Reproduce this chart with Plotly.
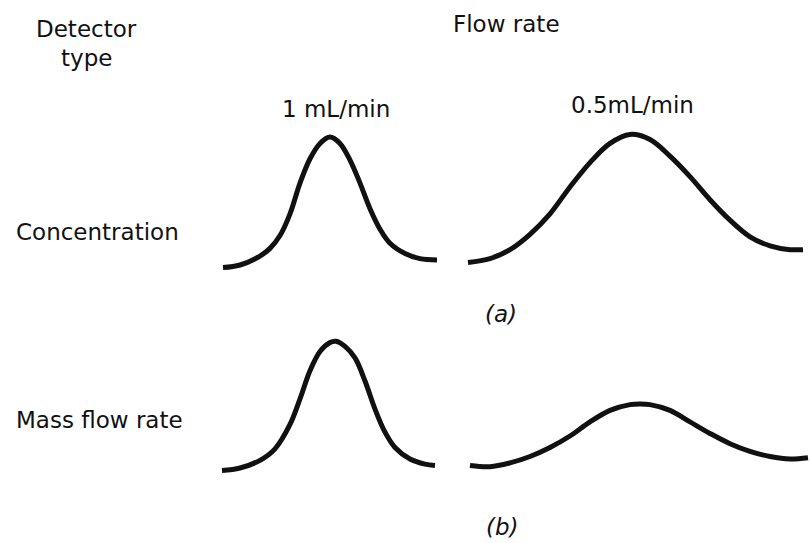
import plotly.graph_objects as go

# Elution profiles: time (min) vs detector response (normalised to the
# concentration-detector peak at 1 mL/min).
conc_1ml_t = [0.06, 0.4, 0.8, 1.0, 1.2, 1.4, 1.6, 1.8, 2.0, 2.2, 2.4, 2.6, 2.8, 3.0, 3.2, 3.4, 3.7, 4.0, 4.34]
conc_1ml_r = [-0.02, 0.00, 0.07, 0.13, 0.23, 0.40, 0.64, 0.83, 0.95, 1.00, 0.95, 0.82, 0.64, 0.44, 0.28, 0.17, 0.09, 0.05, 0.04]

conc_05ml_t = [0.06, 0.5, 0.9, 1.3, 1.7, 2.1, 2.5, 2.9, 3.3, 3.7, 4.1, 4.5, 4.9, 5.3, 5.7, 6.1, 6.5, 6.76]
conc_05ml_r = [0.02, 0.05, 0.12, 0.24, 0.40, 0.61, 0.80, 0.95, 1.02, 0.98, 0.85, 0.69, 0.51, 0.35, 0.22, 0.15, 0.12, 0.12]

mass_1ml_t = [0.04, 0.4, 0.8, 1.1, 1.4, 1.6, 1.8, 2.0, 2.2, 2.32, 2.5, 2.7, 2.9, 3.1, 3.3, 3.5, 3.8, 4.1, 4.3]
mass_1ml_r = [-0.02, 0.00, 0.06, 0.15, 0.34, 0.54, 0.76, 0.91, 0.98, 0.99, 0.95, 0.86, 0.68, 0.46, 0.28, 0.16, 0.07, 0.03, 0.02]

mass_05ml_t = [0.1, 0.5, 0.9, 1.3, 1.7, 2.1, 2.5, 2.9, 3.3, 3.5, 3.7, 4.1, 4.5, 4.9, 5.3, 5.7, 6.1, 6.5, 6.86]
mass_05ml_r = [0.02, 0.01, 0.04, 0.09, 0.16, 0.25, 0.36, 0.45, 0.495, 0.50, 0.495, 0.45, 0.36, 0.27, 0.19, 0.13, 0.09, 0.07, 0.08]

row_labels = ["Concentration", "Mass flow rate"]
col_labels = ["1 mL/min", "0.5mL/min"]
panel_tags = ["(a)", "(b)"]

W, H = 810, 543
INK = "#111111"
FONT = "DejaVu Sans"

# Panel geometry (pixels): columns share a time scale, rows share a response scale
PX_PER_MIN = 50.0
PX_PER_UNIT = 128.0
cols = [dict(left=210, right=450, t0=220), dict(left=455, right=810, t0=465)]
rows = [dict(top=118, bottom=282, base=265), dict(top=325, bottom=488, base=468)]

series = [
    [(conc_1ml_t, conc_1ml_r), (conc_05ml_t, conc_05ml_r)],
    [(mass_1ml_t, mass_1ml_r), (mass_05ml_t, mass_05ml_r)],
]

fig = go.Figure()
layout_axes = {}
k = 0
for ri, row in enumerate(rows):
    for ci, col in enumerate(cols):
        k += 1
        xa = "x" if k == 1 else f"x{k}"
        ya = "y" if k == 1 else f"y{k}"
        t, r = series[ri][ci]
        fig.add_trace(go.Scatter(
            x=t, y=r, xaxis=xa, yaxis=ya, mode="lines",
            line=dict(color=INK, width=5, shape="spline", smoothing=1.0),
            hoverinfo="skip", showlegend=False,
        ))
        xrange = [(col["left"] - col["t0"]) / PX_PER_MIN, (col["right"] - col["t0"]) / PX_PER_MIN]
        yrange = [(row["base"] - row["bottom"]) / PX_PER_UNIT, (row["base"] - row["top"]) / PX_PER_UNIT]
        axis_common = dict(visible=False, showgrid=False, zeroline=False, fixedrange=True)
        layout_axes["xaxis" if k == 1 else f"xaxis{k}"] = dict(
            domain=[col["left"] / W, col["right"] / W], range=xrange,
            anchor=ya, **axis_common)
        layout_axes["yaxis" if k == 1 else f"yaxis{k}"] = dict(
            domain=[1 - row["bottom"] / H, 1 - row["top"] / H], range=yrange,
            anchor=xa, **axis_common)

fig.update_layout(**layout_axes)


def label(text, x, y, xanchor="center", italic=False, size=23):
    fig.add_annotation(
        text=text, xref="paper", yref="paper", x=x / W, y=1 - y / H,
        xanchor=xanchor, yanchor="middle", showarrow=False,
        font=dict(family=FONT, size=size, color=INK,
                  style="italic" if italic else "normal"),
    )


label("Detector", 86, 29)
label("type", 86, 58)
label("Flow rate", 506, 24)
label(col_labels[0], 336, 109)
label(col_labels[1], 632, 105)
label(row_labels[0], 14, 232, xanchor="left")
label(row_labels[1], 14, 420, xanchor="left")
label(panel_tags[0], 501, 314, italic=True)
label(panel_tags[1], 502, 527, italic=True)

fig.update_layout(
    width=W, height=H,
    margin=dict(l=0, r=0, t=0, b=0),
    paper_bgcolor="white", plot_bgcolor="white",
    showlegend=False,
)

fig.write_html("out.html", config=dict(displayModeBar=False))
